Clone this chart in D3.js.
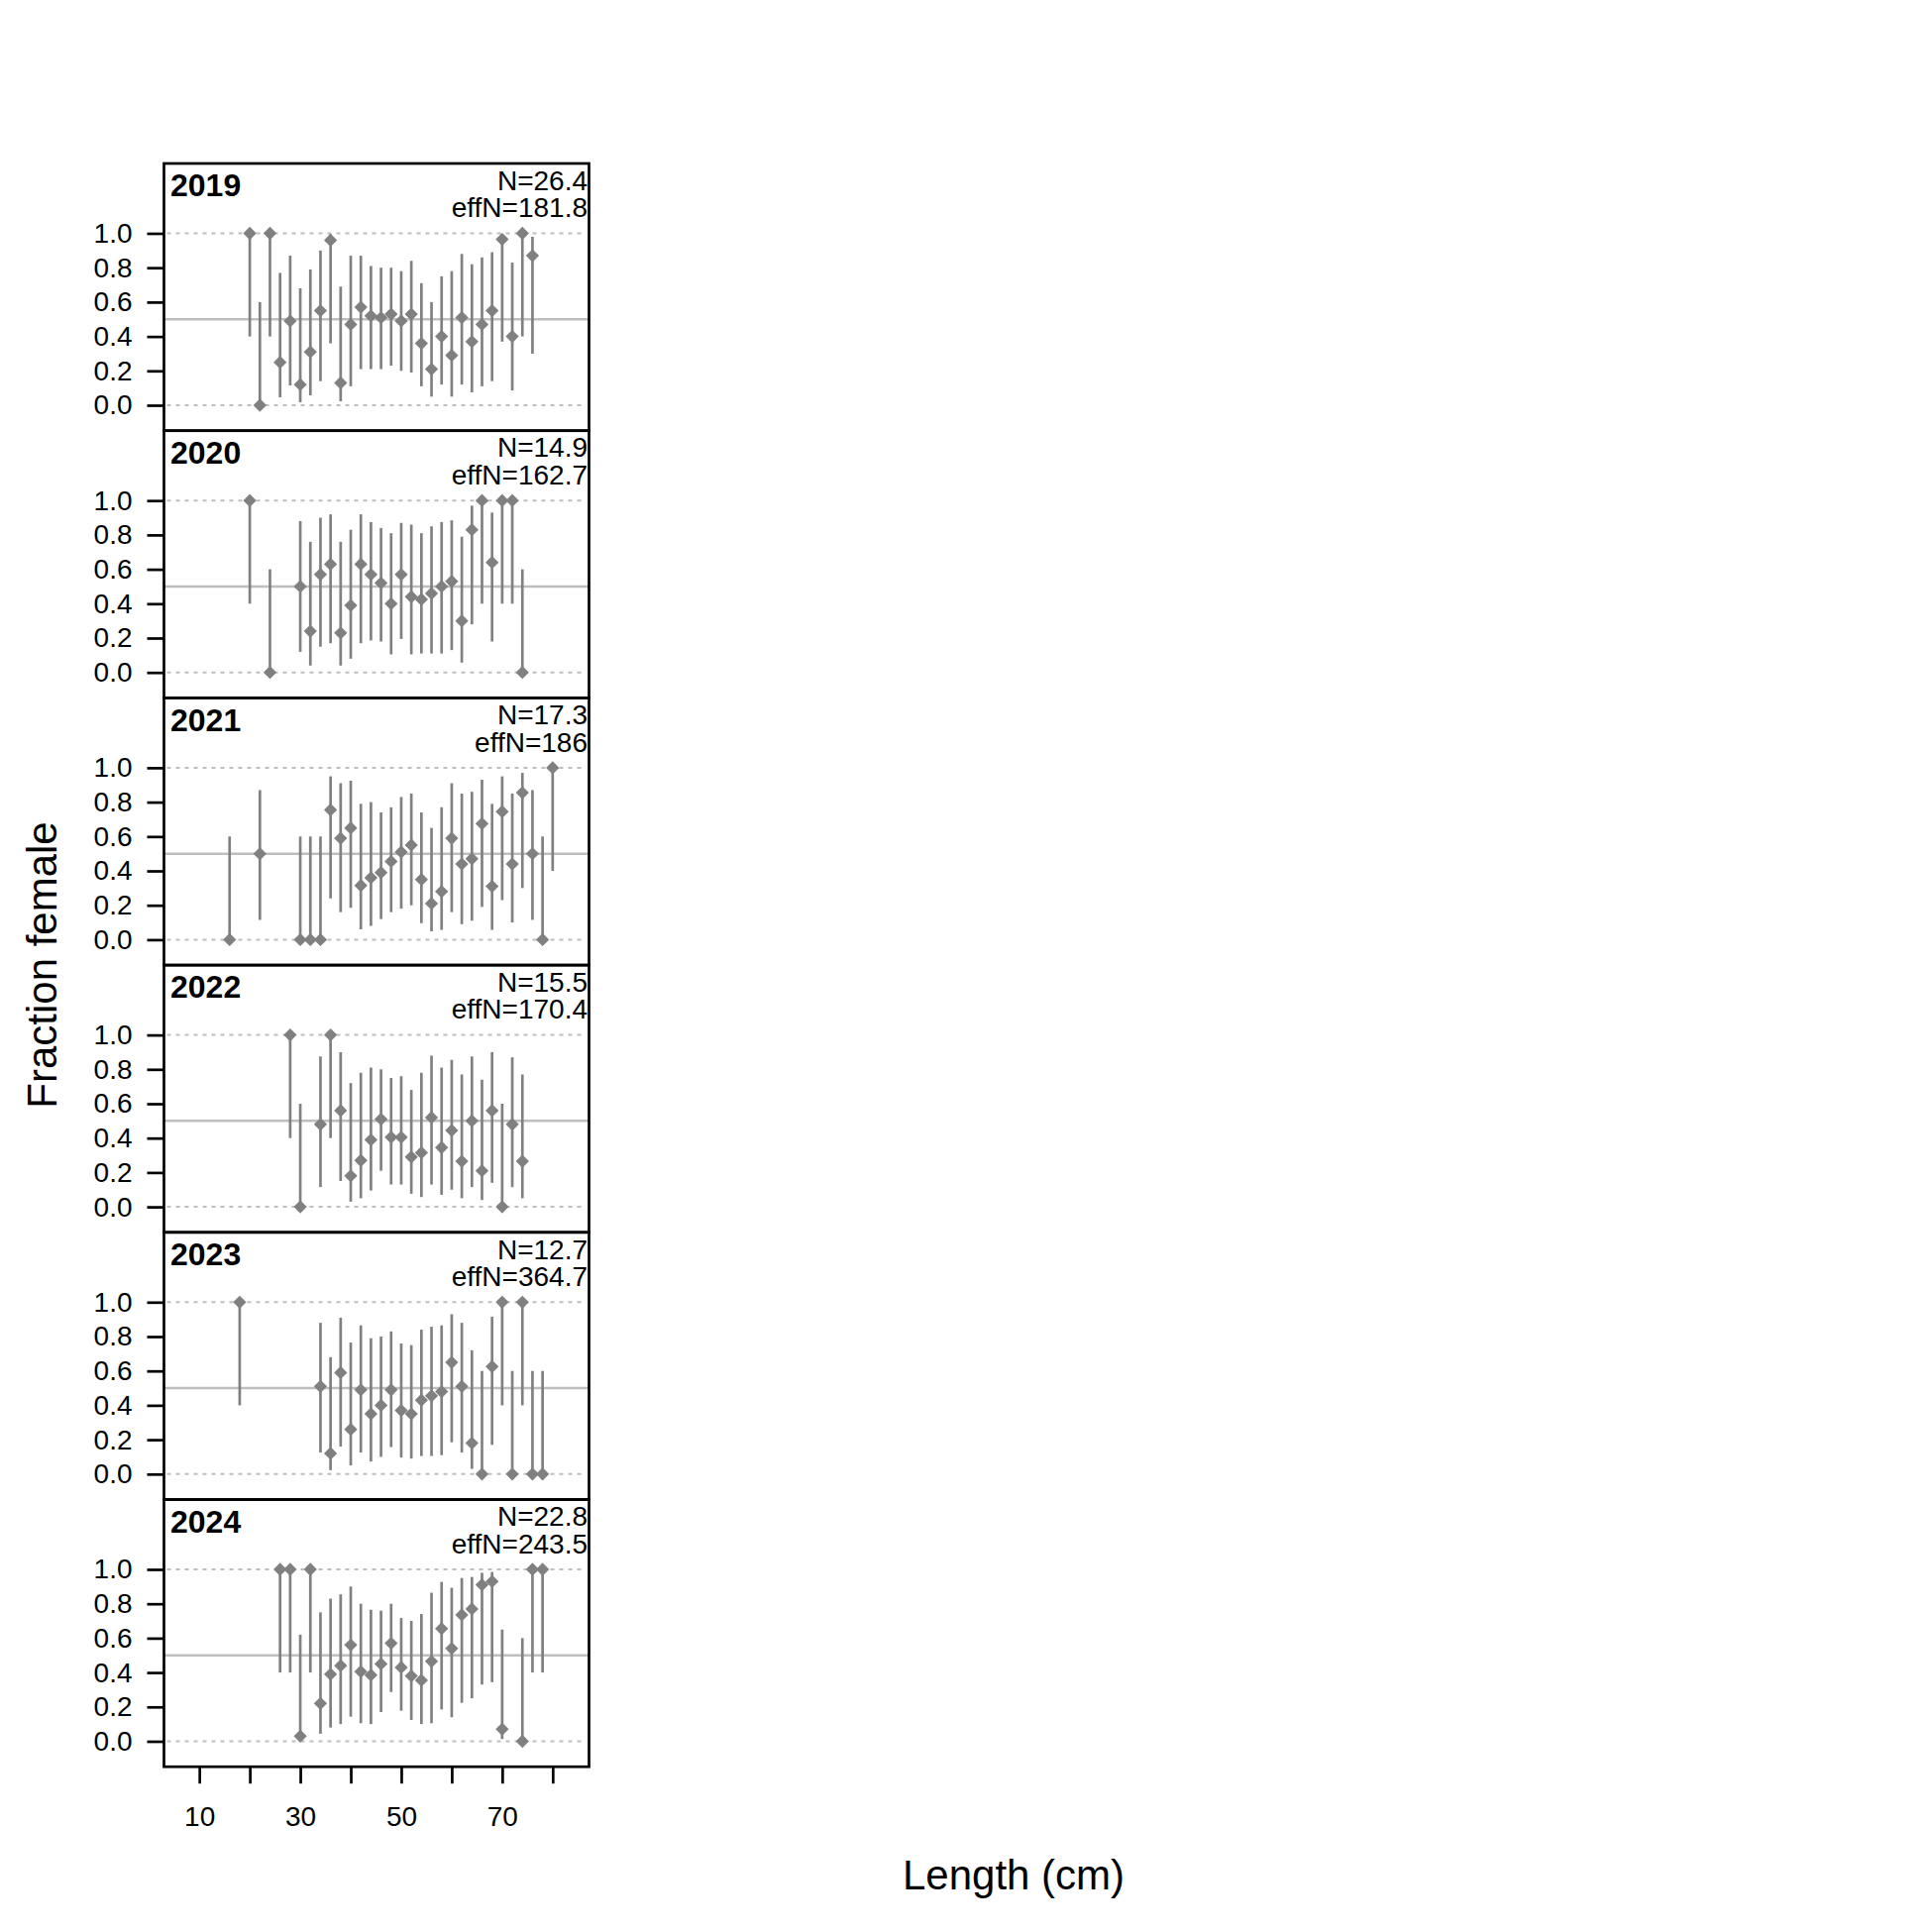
<!DOCTYPE html>
<html>
<head>
<meta charset="utf-8">
<script src="https://cdn.jsdelivr.net/npm/d3@7"></script>
<style>
  html, body { margin: 0; padding: 0; background: #fff; }
  text { font-family: "Liberation Sans", Arial, Helvetica, sans-serif; }
</style>
</head>
<body>
<svg id="chart" width="1950" height="1950"></svg>
<script>
// ---------------- data ----------------
const years = ["2019", "2020", "2021", "2022", "2023", "2024"];
const nLabels = ["N=26.4", "N=14.9", "N=17.3", "N=15.5", "N=12.7", "N=22.8"];
const effNLabels = ["effN=181.8", "effN=162.7", "effN=186", "effN=170.4", "effN=364.7", "effN=243.5"];

const yTickValues = [0, 0.2, 0.4, 0.6, 0.8, 1.0];
const xTickValues = [10, 20, 30, 40, 50, 60, 70, 80];
const xTickLabels = ["10", "", "30", "", "50", "", "70", ""];

const len2019 = [20,22,24,26,28,30,32,34,36,38,40,42,44,46,48,50,52,54,56,58,60,62,64,66,68,70,72,74,76];
const obs2019 = [1.0,0,1.0,0.25,0.49,0.12,0.31,0.55,0.96,0.13,0.47,0.57,0.52,0.51,0.53,0.49,0.53,0.36,0.21,0.40,0.29,0.51,0.37,0.47,0.55,0.965,0.40,1.0,0.87];
const lo2019  = [0.40,0,0.40,0.046,0.115,0.017,0.057,0.14,0.36,0.023,0.11,0.21,0.21,0.21,0.23,0.20,0.19,0.11,0.05,0.12,0.05,0.12,0.075,0.11,0.14,0.37,0.086,0.40,0.30];
const hi2019  = [1.0,0.60,1.0,0.77,0.87,0.68,0.79,0.90,0.995,0.69,0.87,0.87,0.81,0.80,0.80,0.78,0.84,0.71,0.60,0.75,0.78,0.88,0.82,0.86,0.89,0.995,0.83,1.0,0.98];

const len2020 = [20,24,30,32,34,36,38,40,42,44,46,48,50,52,54,56,58,60,62,64,66,68,70,72,74];
const obs2020 = [1.0,0,0.50,0.24,0.57,0.63,0.23,0.39,0.63,0.57,0.52,0.40,0.57,0.44,0.425,0.46,0.50,0.53,0.30,0.83,1.0,0.64,1.0,1.0,0];
const lo2020  = [0.40,0,0.12,0.04,0.15,0.17,0.04,0.08,0.17,0.186,0.18,0.105,0.195,0.105,0.11,0.11,0.11,0.13,0.057,0.28,0.40,0.18,0.40,0.40,0];
const hi2020  = [1.0,0.60,0.88,0.76,0.90,0.92,0.76,0.83,0.92,0.875,0.84,0.81,0.87,0.86,0.81,0.85,0.875,0.885,0.79,0.97,1.0,0.93,1.0,1.0,0.60];

const len2021 = [16,22,30,32,34,36,38,40,42,44,46,48,50,52,54,56,58,60,62,64,66,68,70,72,74,76,78,80];
const obs2021 = [0,0.50,0,0,0,0.755,0.59,0.65,0.315,0.36,0.39,0.455,0.51,0.55,0.35,0.21,0.28,0.59,0.44,0.47,0.675,0.31,0.745,0.44,0.855,0.50,0,1.0];
const lo2021  = [0,0.115,0,0,0,0.24,0.16,0.185,0.06,0.08,0.12,0.16,0.18,0.20,0.096,0.048,0.057,0.16,0.09,0.11,0.19,0.057,0.23,0.10,0.30,0.115,0,0.40];
const hi2021  = [0.60,0.87,0.60,0.60,0.60,0.95,0.91,0.925,0.79,0.80,0.74,0.77,0.83,0.85,0.74,0.65,0.77,0.91,0.85,0.86,0.93,0.79,0.95,0.85,0.97,0.87,0.60,1.0];

const len2022 = [28,30,34,36,38,40,42,44,46,48,50,52,54,56,58,60,62,64,66,68,70,72,74];
const obs2022 = [1.0,0,0.48,1.0,0.56,0.18,0.27,0.39,0.51,0.405,0.405,0.29,0.315,0.52,0.345,0.445,0.265,0.50,0.21,0.56,0,0.48,0.265];
const lo2022  = [0.40,0,0.115,0.40,0.15,0.03,0.05,0.095,0.21,0.13,0.13,0.076,0.057,0.13,0.07,0.10,0.05,0.115,0.04,0.14,0,0.115,0.05];
const hi2022  = [1.0,0.60,0.875,1.0,0.90,0.72,0.78,0.81,0.80,0.75,0.76,0.68,0.78,0.88,0.81,0.855,0.77,0.875,0.74,0.90,0.60,0.87,0.77];

const len2023 = [18,34,36,38,40,42,44,46,48,50,52,54,56,58,60,62,64,66,68,70,72,74,76,78];
const obs2023 = [1.0,0.51,0.12,0.59,0.26,0.49,0.35,0.40,0.49,0.37,0.35,0.43,0.455,0.48,0.65,0.51,0.18,0,0.625,1.0,0,1.0,0,0];
const lo2023  = [0.40,0.125,0.023,0.16,0.05,0.125,0.073,0.10,0.157,0.096,0.09,0.105,0.105,0.11,0.185,0.125,0.03,0,0.17,0.40,0,0.40,0,0];
const hi2023  = [1.0,0.88,0.68,0.91,0.765,0.865,0.79,0.80,0.83,0.76,0.75,0.84,0.857,0.865,0.93,0.88,0.72,0.60,0.915,1.0,0.60,1.0,0.60,0.60];

const len2024 = [26,28,30,32,34,36,38,40,42,44,46,48,50,52,54,56,58,60,62,64,66,68,70,74,76,78];
const obs2024 = [1.0,1.0,0.03,1.0,0.22,0.39,0.44,0.56,0.405,0.385,0.45,0.57,0.43,0.38,0.355,0.465,0.655,0.54,0.735,0.77,0.91,0.93,0.07,0,1.0,1.0];
const lo2024  = [0.40,0.40,0.01,0.40,0.044,0.08,0.10,0.143,0.105,0.10,0.17,0.287,0.178,0.124,0.10,0.105,0.185,0.14,0.224,0.25,0.33,0.344,0.013,0,0.40,0.40];
const hi2024  = [1.0,1.0,0.62,1.0,0.75,0.83,0.855,0.90,0.80,0.765,0.76,0.80,0.717,0.70,0.74,0.864,0.927,0.893,0.95,0.956,0.98,0.985,0.65,0.60,1.0,1.0];

const lengths = [len2019, len2020, len2021, len2022, len2023, len2024];
const observed = [obs2019, obs2020, obs2021, obs2022, obs2023, obs2024];
const lowers = [lo2019, lo2020, lo2021, lo2022, lo2023, lo2024];
const uppers = [hi2019, hi2020, hi2021, hi2022, hi2023, hi2024];

// ---------------- layout ----------------
const svg = d3.select("#chart");
const W = 1950, H = 1950;
svg.append("rect").attr("width", W).attr("height", H).attr("fill", "#fff");

const panelLeft = 165.5, panelRight = 594.5;
const panelTop = 165, panelH = 269.7;

const x = d3.scaleLinear().domain([3.0, 87.2]).range([panelLeft, panelRight]);

const markColor = "#808080";
const refColor = "#BEBEBE";
const diamond = d3.symbol().type(d3.symbolSquare).size(88);
const labelSize = 28;

years.forEach((yr, i) => {
  const top = panelTop + i * panelH;
  const y = d3.scaleLinear().domain([0, 1]).range([top + 244, top + 70.5]);
  const g = svg.append("g");

  // reference lines
  [0, 1].forEach(v => {
    g.append("line")
      .attr("x1", panelLeft + 3).attr("x2", panelRight - 3)
      .attr("y1", y(v)).attr("y2", y(v))
      .attr("stroke", refColor).attr("stroke-width", 2)
      .attr("stroke-dasharray", "4,5");
  });
  g.append("line")
    .attr("x1", panelLeft).attr("x2", panelRight)
    .attr("y1", y(0.5)).attr("y2", y(0.5))
    .attr("stroke", refColor).attr("stroke-width", 2.5);

  const rows = lengths[i].map((L, j) => ({ L, o: observed[i][j], lo: lowers[i][j], hi: uppers[i][j] }));

  g.selectAll("line.ci").data(rows).enter().append("line")
    .attr("class", "ci")
    .attr("x1", d => x(d.L)).attr("x2", d => x(d.L))
    .attr("y1", d => y(d.lo)).attr("y2", d => y(d.hi))
    .attr("stroke", markColor).attr("stroke-width", 2.7);

  g.selectAll("path.pt").data(rows).enter().append("path")
    .attr("class", "pt")
    .attr("d", diamond)
    .attr("transform", d => `translate(${x(d.L)},${y(d.o)}) rotate(45)`)
    .attr("fill", markColor);

  // y axis
  const ax = g.append("g")
    .attr("transform", `translate(${panelLeft},0)`)
    .call(d3.axisLeft(y).tickValues(yTickValues).tickFormat(d3.format(".1f")).tickSize(17).tickPadding(15));
  ax.select(".domain").remove();
  ax.selectAll(".tick line").attr("stroke", "#000").attr("stroke-width", 2.7);
  ax.selectAll(".tick text").attr("font-size", labelSize).attr("fill", "#000")
    .attr("font-family", "Liberation Sans, Arial, sans-serif");

  // labels
  g.append("text").attr("x", 172).attr("y", top + 33.3)
    .attr("font-size", 32).attr("font-weight", "bold").attr("fill", "#000").text(yr);
  g.append("text").attr("x", 593).attr("y", top + 26.7)
    .attr("text-anchor", "end").attr("font-size", labelSize).attr("fill", "#000").text(nLabels[i]);
  g.append("text").attr("x", 593).attr("y", top + 54.3)
    .attr("text-anchor", "end").attr("font-size", labelSize).attr("fill", "#000").text(effNLabels[i]);

  // frame
  g.append("rect")
    .attr("x", panelLeft).attr("y", top)
    .attr("width", panelRight - panelLeft).attr("height", panelH)
    .attr("fill", "none").attr("stroke", "#000").attr("stroke-width", 2.7);
});

// x axis (bottom)
const bottom = panelTop + years.length * panelH;
const xa = svg.append("g")
  .attr("transform", `translate(0,${bottom})`)
  .call(d3.axisBottom(x).tickValues(xTickValues)
    .tickFormat((d, k) => xTickLabels[k]).tickSize(17).tickPadding(23));
xa.select(".domain").remove();
xa.selectAll(".tick line").attr("stroke", "#000").attr("stroke-width", 2.7);
xa.selectAll(".tick text").attr("font-size", labelSize).attr("fill", "#000")
  .attr("font-family", "Liberation Sans, Arial, sans-serif");

// axis titles
svg.append("text")
  .attr("transform", `translate(57,974) rotate(-90)`)
  .attr("text-anchor", "middle").attr("font-size", 42).attr("fill", "#000")
  .text("Fraction female");
svg.append("text")
  .attr("x", 1023).attr("y", 1906.7)
  .attr("text-anchor", "middle").attr("font-size", 42).attr("fill", "#000")
  .text("Length (cm)");
</script>
</body>
</html>
